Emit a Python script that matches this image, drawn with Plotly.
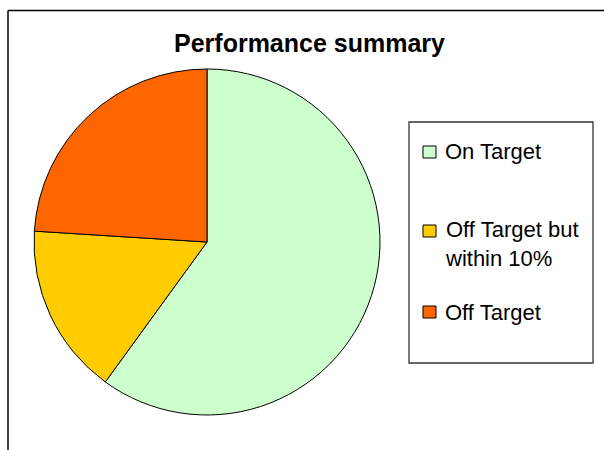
import plotly.graph_objects as go

# Data
labels = ["On Target", "Off Target but within 10%", "Off Target"]
values = [15, 4, 6]
colors = ["#CCFFCC", "#FFCC00", "#FF6600"]
title_text = "Performance summary"

W, H = 604, 450
FONT = "Liberation Sans, Arial, sans-serif"


def px(x):
    return x / W


def py(y):
    return 1 - y / H


fig = go.Figure()
fig.add_trace(go.Pie(
    labels=labels,
    values=values,
    marker=dict(colors=colors, line=dict(color="black", width=1)),
    sort=False,
    direction="clockwise",
    rotation=0,
    textinfo="none",
    hoverinfo="label+value+percent",
    showlegend=False,
    domain=dict(x=[px(33), px(381)], y=[py(415), py(69)]),
))

shapes = []
# outer chart border (top + left)
shapes.append(dict(type="line", xref="paper", yref="paper",
                   x0=px(8), x1=px(604), y0=py(10.5), y1=py(10.5),
                   line=dict(color="black", width=1.5)))
shapes.append(dict(type="line", xref="paper", yref="paper",
                   x0=px(8), x1=px(8), y0=py(10.5), y1=py(450),
                   line=dict(color="black", width=1.5)))
# legend box
shapes.append(dict(type="rect", xref="paper", yref="paper",
                   x0=px(409), x1=px(593), y0=py(122), y1=py(363),
                   line=dict(color="#333333", width=1.3), fillcolor="rgba(0,0,0,0)"))

annotations = [dict(
    text="<b>" + title_text + "</b>", xref="paper", yref="paper",
    x=px(309), y=py(43), xanchor="center", yanchor="middle",
    showarrow=False, font=dict(family=FONT, size=25, color="black"),
)]

sq_centers = [152, 231, 312]
text_centers = [152, 244, 312]
for lab, col, sc, tc in zip(labels, colors, sq_centers, text_centers):
    shapes.append(dict(type="rect", xref="paper", yref="paper",
                       x0=px(423), x1=px(436), y0=py(sc - 6), y1=py(sc + 6),
                       line=dict(color="black", width=1), fillcolor=col))
    annotations.append(dict(
        text=lab.replace(" within", "<br>within"), xref="paper", yref="paper",
        x=px(443), y=py(tc), xanchor="left", yanchor="middle", align="left",
        showarrow=False, font=dict(family=FONT, size=22, color="black"),
    ))

fig.update_layout(
    width=W, height=H,
    margin=dict(l=0, r=0, t=0, b=0),
    paper_bgcolor="white", plot_bgcolor="white",
    shapes=shapes, annotations=annotations,
    showlegend=False,
)

fig.write_html("out.html", config={"displayModeBar": False},
               post_script="document.body.style.margin='0';")
